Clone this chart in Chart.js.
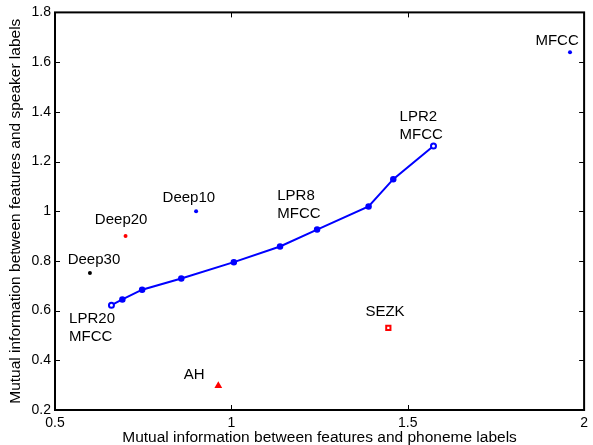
<!DOCTYPE html>
<html>
<head>
<meta charset="utf-8">
<script src="https://cdn.jsdelivr.net/npm/chart.js@4"></script>
<style>
	html, body { margin: 0; padding: 0; background: #fff; }
	#wrap { width: 593px; height: 445px; }
</style>
</head>
<body>
<div id="wrap"><canvas id="chart" width="593" height="445"></canvas></div>
<script>
// LPR/MFCC curve (x: phoneme MI, y: speaker MI)
const lprX = [0.660, 0.691, 0.747, 0.858, 1.007, 1.138, 1.243, 1.389, 1.459, 1.573];
const lprY = [0.622, 0.645, 0.684, 0.729, 0.795, 0.858, 0.926, 1.019, 1.129, 1.262];

// single feature sets
const singleNames = ['MFCC', 'Deep10', 'Deep20', 'Deep30', 'AH', 'SEZK'];
const singleX = [1.960, 0.900, 0.700, 0.599, 0.963, 1.445];
const singleY = [1.640, 1.000, 0.900, 0.751, 0.298, 0.530];

const xTicks = [0.5, 1, 1.5, 2];
const yTicks = [0.2, 0.4, 0.6, 0.8, 1, 1.2, 1.4, 1.6, 1.8];

// text annotations in data coordinates (left edge, middle of first line)
const notes = [
	{ lines: ['MFCC'], x: 1.862, y: 1.684 },
	{ lines: ['LPR2', 'MFCC'], x: 1.477, y: 1.380 },
	{ lines: ['LPR8', 'MFCC'], x: 1.130, y: 1.062 },
	{ lines: ['Deep10'], x: 0.805, y: 1.055 },
	{ lines: ['Deep20'], x: 0.613, y: 0.966 },
	{ lines: ['Deep30'], x: 0.536, y: 0.804 },
	{ lines: ['LPR20', 'MFCC'], x: 0.540, y: 0.565 },
	{ lines: ['AH'], x: 0.865, y: 0.342 },
	{ lines: ['SEZK'], x: 1.380, y: 0.593 },
];

const FONT = '"Liberation Sans", Arial, sans-serif';

const pt = (i) => ({ x: singleX[i], y: singleY[i] });

const labelPlugin = {
	id: 'notes',
	afterDatasetsDraw(chart) {
		const { ctx, scales } = chart;
		ctx.save();
		ctx.fillStyle = '#000';
		ctx.font = `15px ${FONT}`;
		ctx.textAlign = 'left';
		ctx.textBaseline = 'middle';
		notes.forEach((n) => {
			const px = scales.x.getPixelForValue(n.x);
			const py = scales.y.getPixelForValue(n.y);
			n.lines.forEach((line, i) => ctx.fillText(line, px, py + i * 18));
		});
		ctx.restore();
	},
};

// MATLAB-style box with inward ticks on all four sides
const boxPlugin = {
	id: 'box',
	afterDraw(chart) {
		const { ctx, chartArea: a, scales } = chart;
		const len = 5;
		ctx.save();
		ctx.strokeStyle = '#000';
		ctx.lineWidth = 1;
		xTicks.forEach((v) => {
			const px = Math.round(scales.x.getPixelForValue(v)) + 0.5;
			ctx.beginPath();
			ctx.moveTo(px, a.bottom); ctx.lineTo(px, a.bottom - len);
			ctx.moveTo(px, a.top); ctx.lineTo(px, a.top + len);
			ctx.stroke();
		});
		yTicks.forEach((v) => {
			const py = Math.round(scales.y.getPixelForValue(v)) + 0.5;
			ctx.beginPath();
			ctx.moveTo(a.left, py); ctx.lineTo(a.left + len, py);
			ctx.moveTo(a.right, py); ctx.lineTo(a.right - len, py);
			ctx.stroke();
		});
		ctx.lineWidth = 2;
		ctx.strokeRect(a.left, a.top, a.right - a.left, a.bottom - a.top);
		ctx.restore();
	},
};

const single = (i, color, extra = {}) => ({
	label: singleNames[i],
	type: 'scatter',
	data: [pt(i)],
	pointRadius: 2,
	pointBackgroundColor: color,
	pointBorderColor: color,
	pointBorderWidth: 0,
	...extra,
});

const isEnd = (i) => i === 0 || i === lprX.length - 1;

new Chart(document.getElementById('chart'), {
	type: 'line',
	data: {
		datasets: [
			{
				label: 'LPR',
				data: lprX.map((x, i) => ({ x, y: lprY[i] })),
				borderColor: '#0000ff',
				borderWidth: 2,
				tension: 0,
				pointRadius: lprX.map((_, i) => (isEnd(i) ? 2.5 : 2.5)),
				pointBackgroundColor: lprX.map((_, i) => (isEnd(i) ? '#ffffff' : '#0000ff')),
				pointBorderColor: '#0000ff',
				pointBorderWidth: lprX.map((_, i) => (isEnd(i) ? 2 : 1.5)),
			},
			single(0, '#0000ff'),
			single(1, '#0000ff'),
			single(2, '#ff0000'),
			single(3, '#000000'),
			single(4, '#ff0000', { pointStyle: 'triangle', pointRadius: 4.5 }),
			single(5, '#ff0000', {
				pointStyle: 'rect',
				pointRadius: 3,
				pointBackgroundColor: '#ffffff',
				pointBorderWidth: 2,
			}),
		],
	},
	options: {
		responsive: false,
		animation: false,
		layout: { padding: { top: 11, right: 7, left: 0, bottom: 0 } },
		plugins: {
			legend: { display: false },
			tooltip: { enabled: false },
		},
		scales: {
			x: {
				type: 'linear',
				min: 0.5,
				max: 2,
				afterFit: (s) => { s.height = 35; },
				afterBuildTicks: (s) => { s.ticks = xTicks.map((v) => ({ value: v })); },
				grid: { display: false, drawTicks: false },
				border: { display: false },
				ticks: {
					autoSkip: false,
					maxRotation: 0,
					padding: 5,
					color: '#000',
					font: { family: FONT, size: 14 },
					callback: (v) => String(v),
				},
				title: {
					display: true,
					text: 'Mutual information between features and phoneme labels',
					color: '#000',
					font: { family: FONT, size: 15.5 },
					padding: { top: 0, bottom: -2 },
				},
			},
			y: {
				type: 'linear',
				min: 0.2,
				max: 1.8,
				afterFit: (s) => { s.width = 55; },
				afterBuildTicks: (s) => { s.ticks = yTicks.map((v) => ({ value: v })); },
				grid: { display: false, drawTicks: false },
				border: { display: false },
				ticks: {
					autoSkip: false,
					padding: 4,
					color: '#000',
					font: { family: FONT, size: 14 },
					callback: (v) => String(Math.round(v * 10) / 10),
				},
				title: {
					display: true,
					text: 'Mutual information between features and speaker labels',
					color: '#000',
					font: { family: FONT, size: 15.5 },
					padding: { top: 6, bottom: 0 },
				},
			},
		},
	},
	plugins: [labelPlugin, boxPlugin],
});
</script>
</body>
</html>
